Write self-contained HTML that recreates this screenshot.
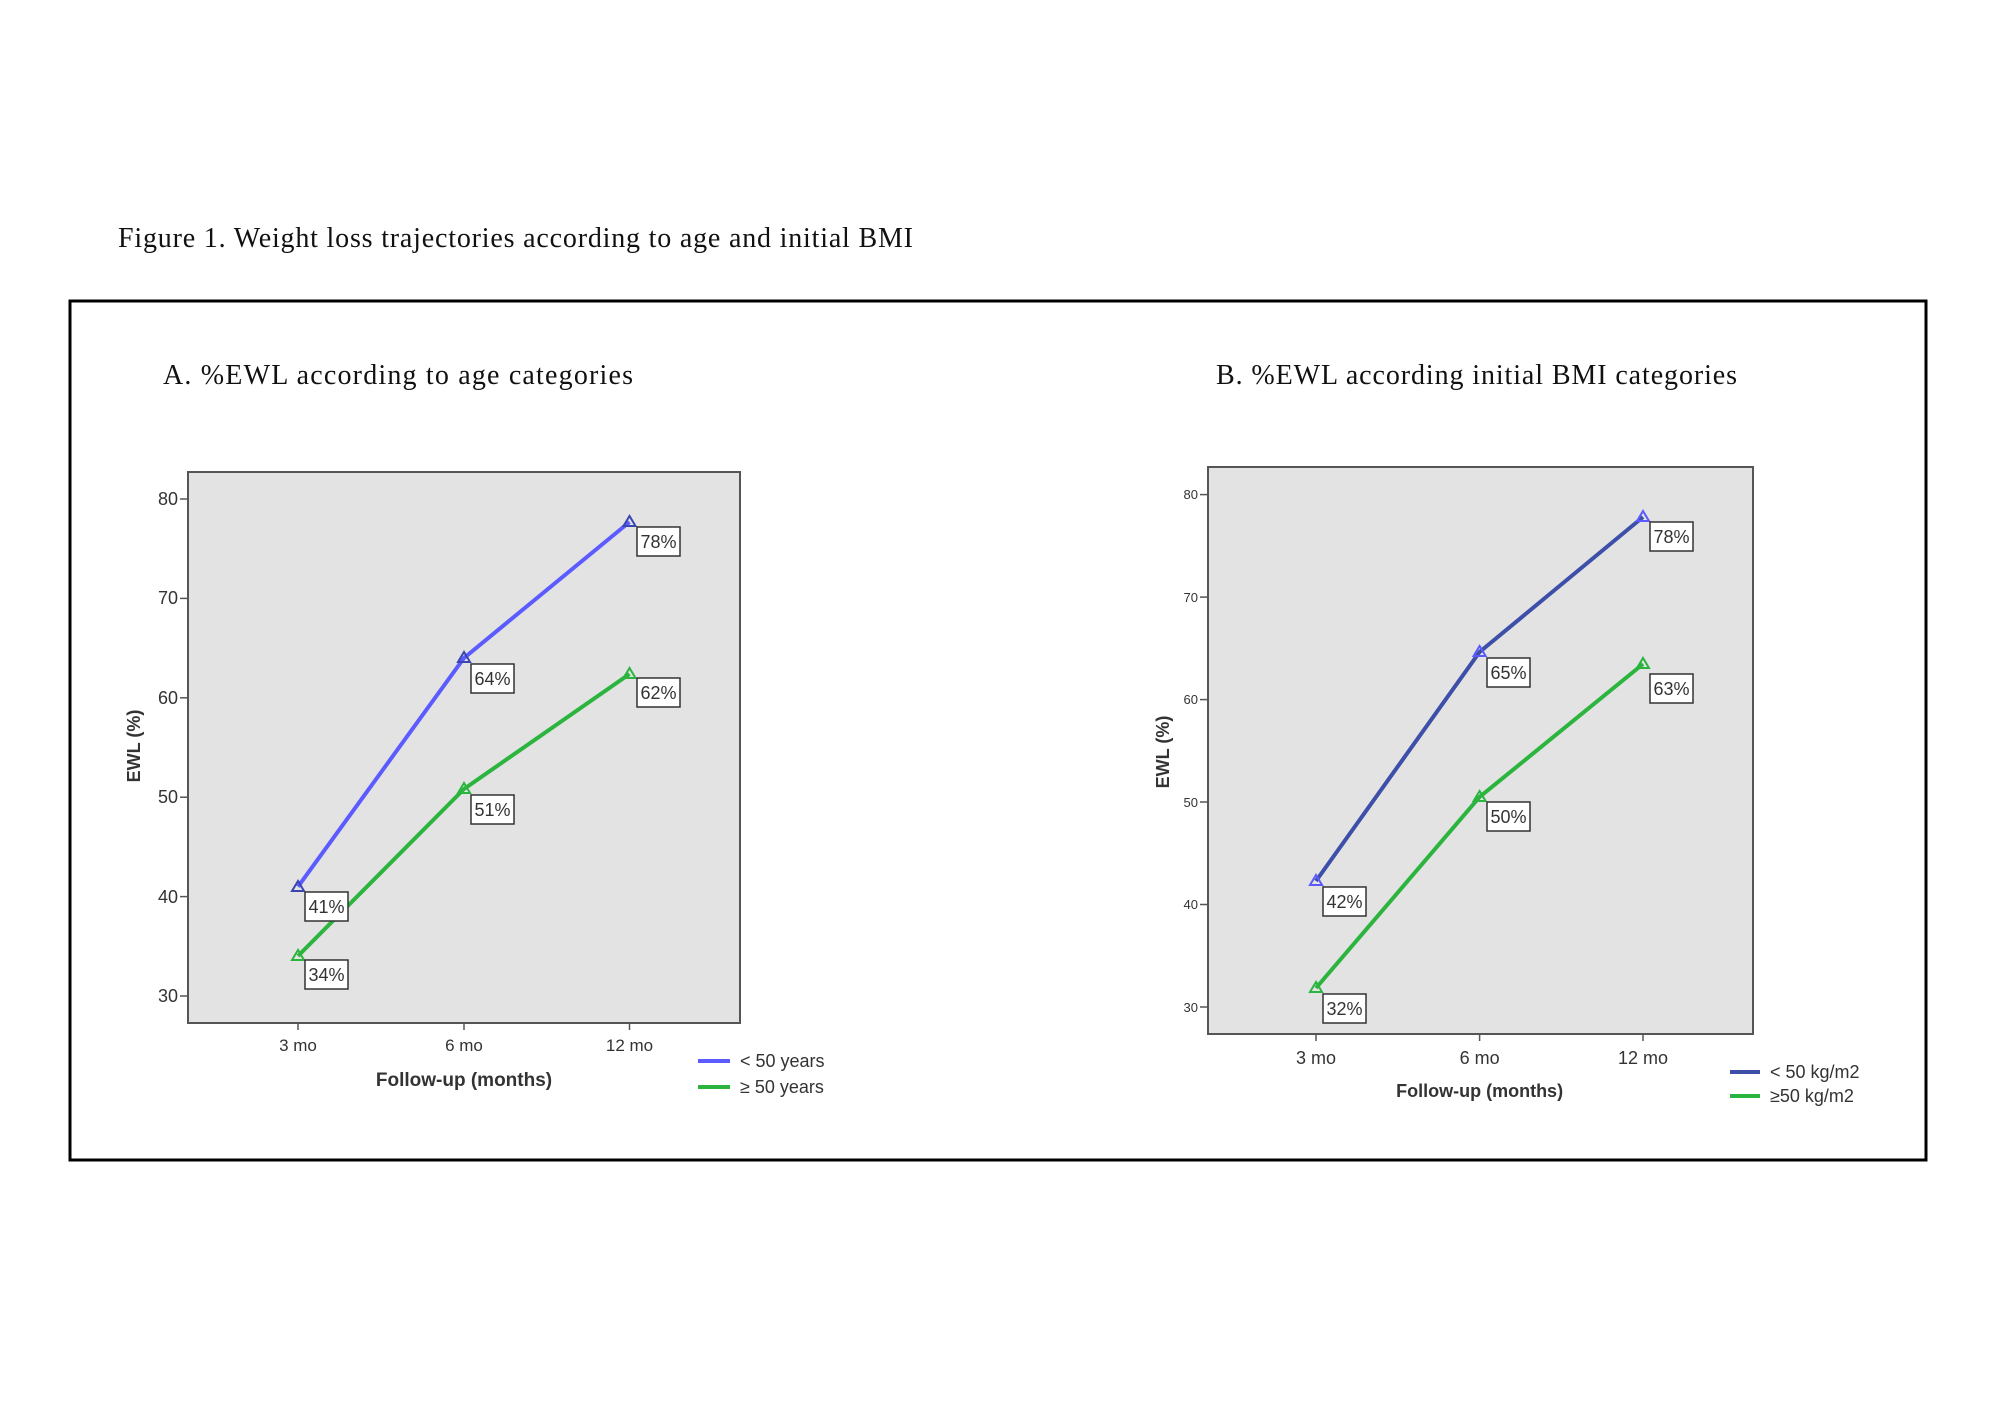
<!DOCTYPE html>
<html><head><style>body{margin:0;background:#fff}svg{display:block}</style></head>
<body>
<svg width="2000" height="1414" viewBox="0 0 2000 1414" xmlns="http://www.w3.org/2000/svg">
<defs>
<style>
.serif{font-family:"Liberation Serif",serif;fill:#111}
.sans{font-family:"Liberation Sans",sans-serif;fill:#333}
.lab{font-family:"Liberation Sans",sans-serif;fill:#333;font-size:18px}
</style>
</defs>
<text x="118" y="247" class="serif" font-size="28" textLength="795" lengthAdjust="spacing">Figure 1. Weight loss trajectories according to age and initial BMI</text>
<rect x="70" y="301" width="1856" height="859" fill="none" stroke="#000" stroke-width="3"/>
<text x="163" y="384" class="serif" font-size="28" textLength="470" lengthAdjust="spacing">A.  %EWL according to age categories</text>
<text x="1216" y="384" class="serif" font-size="28" textLength="521" lengthAdjust="spacing">B. %EWL according initial BMI categories</text>

<!-- Panel A -->
<rect x="188" y="472" width="552" height="551" fill="#e3e3e3" stroke="#555" stroke-width="2"/>
<g stroke="#555" stroke-width="1.5">
<line x1="180" y1="499" x2="188" y2="499"/><line x1="180" y1="598.4" x2="188" y2="598.4"/>
<line x1="180" y1="697.8" x2="188" y2="697.8"/><line x1="180" y1="797.2" x2="188" y2="797.2"/>
<line x1="180" y1="896.6" x2="188" y2="896.6"/><line x1="180" y1="996" x2="188" y2="996"/>
<line x1="298" y1="1023" x2="298" y2="1030"/><line x1="464" y1="1023" x2="464" y2="1030"/><line x1="629.5" y1="1023" x2="629.5" y2="1030"/>
</g>
<g class="sans" font-size="18" text-anchor="end">
<text x="178" y="505">80</text><text x="178" y="604">70</text><text x="178" y="704">60</text>
<text x="178" y="803">50</text><text x="178" y="903">40</text><text x="178" y="1002">30</text>
</g>
<g class="sans" font-size="17" text-anchor="middle">
<text x="298" y="1051">3 mo</text><text x="464" y="1051">6 mo</text><text x="629.5" y="1051">12 mo</text>
</g>
<text x="464" y="1086" class="sans" font-size="19" font-weight="bold" text-anchor="middle" fill="#111">Follow-up (months)</text>
<text transform="translate(140,746) rotate(-90)" class="sans" font-size="18" font-weight="bold" text-anchor="middle" fill="#111">EWL (%)</text>
<polyline points="298,886.7 464,658 629.5,522" fill="none" stroke="#5b5bff" stroke-width="4"/>
<polyline points="298,956 464,789 629.5,674" fill="none" stroke="#2bb43e" stroke-width="4"/>
<g fill="none" stroke-width="2">
<path d="M298,881 l-6,10 h12z" stroke="#3a46b0"/><path d="M464,652 l-6,10 h12z" stroke="#3a46b0"/><path d="M629.5,516 l-6,10 h12z" stroke="#3a46b0"/>
<path d="M298,950 l-6,10 h12z" stroke="#2bb43e"/><path d="M464,783 l-6,10 h12z" stroke="#2bb43e"/><path d="M629.5,668 l-6,10 h12z" stroke="#2bb43e"/>
</g>
<g fill="#fff" stroke="#333" stroke-width="1.5">
<rect x="305" y="892" width="43" height="29"/><rect x="305" y="960" width="43" height="29"/>
<rect x="471" y="664" width="43" height="29"/><rect x="471" y="795" width="43" height="29"/>
<rect x="637" y="527" width="43" height="29"/><rect x="637" y="678" width="43" height="29"/>
</g>
<g class="lab" text-anchor="middle">
<text x="326.5" y="913">41%</text><text x="326.5" y="981">34%</text>
<text x="492.5" y="685">64%</text><text x="492.5" y="816">51%</text>
<text x="658.5" y="548">78%</text><text x="658.5" y="699">62%</text>
</g>
<line x1="698" y1="1061" x2="730" y2="1061" stroke="#5b5bff" stroke-width="4"/>
<line x1="698" y1="1087" x2="730" y2="1087" stroke="#2bb43e" stroke-width="4"/>
<text x="740" y="1067" class="sans" font-size="18">&lt; 50 years</text>
<text x="740" y="1093" class="sans" font-size="18">≥ 50 years</text>

<!-- Panel B -->
<rect x="1208" y="467" width="545" height="567" fill="#e3e3e3" stroke="#555" stroke-width="2"/>
<g stroke="#555" stroke-width="1.5">
<line x1="1200" y1="494.6" x2="1208" y2="494.6"/><line x1="1200" y1="597.1" x2="1208" y2="597.1"/>
<line x1="1200" y1="699.6" x2="1208" y2="699.6"/><line x1="1200" y1="802" x2="1208" y2="802"/>
<line x1="1200" y1="904.5" x2="1208" y2="904.5"/><line x1="1200" y1="1007" x2="1208" y2="1007"/>
<line x1="1316" y1="1034" x2="1316" y2="1041"/><line x1="1479.6" y1="1034" x2="1479.6" y2="1041"/><line x1="1643" y1="1034" x2="1643" y2="1041"/>
</g>
<g class="sans" font-size="13" text-anchor="end">
<text x="1198" y="499">80</text><text x="1198" y="602">70</text><text x="1198" y="704">60</text>
<text x="1198" y="807">50</text><text x="1198" y="909">40</text><text x="1198" y="1012">30</text>
</g>
<g class="sans" font-size="18" text-anchor="middle">
<text x="1316" y="1064">3 mo</text><text x="1479.6" y="1064">6 mo</text><text x="1643" y="1064">12 mo</text>
</g>
<text x="1479.6" y="1097" class="sans" font-size="18" font-weight="bold" text-anchor="middle" fill="#111">Follow-up (months)</text>
<text transform="translate(1169,752) rotate(-90)" class="sans" font-size="18" font-weight="bold" text-anchor="middle" fill="#111">EWL (%)</text>
<polyline points="1316,881 1479.6,652 1643,517" fill="none" stroke="#3d4fa8" stroke-width="4"/>
<polyline points="1316,988 1479.6,797 1643,664" fill="none" stroke="#2bb43e" stroke-width="4"/>
<g fill="none" stroke-width="2">
<path d="M1316,875 l-6,10 h12z" stroke="#5a5aff"/><path d="M1479.6,646 l-6,10 h12z" stroke="#5a5aff"/><path d="M1643,511 l-6,10 h12z" stroke="#5a5aff"/>
<path d="M1316,982 l-6,10 h12z" stroke="#2bb43e"/><path d="M1479.6,791 l-6,10 h12z" stroke="#2bb43e"/><path d="M1643,658 l-6,10 h12z" stroke="#2bb43e"/>
</g>
<g fill="#fff" stroke="#333" stroke-width="1.5">
<rect x="1323" y="887" width="43" height="29"/><rect x="1323" y="994" width="43" height="29"/>
<rect x="1487" y="658" width="43" height="29"/><rect x="1487" y="802" width="43" height="29"/>
<rect x="1650" y="522" width="43" height="29"/><rect x="1650" y="674" width="43" height="29"/>
</g>
<g class="lab" text-anchor="middle">
<text x="1344.5" y="908">42%</text><text x="1344.5" y="1015">32%</text>
<text x="1508.5" y="679">65%</text><text x="1508.5" y="823">50%</text>
<text x="1671.5" y="543">78%</text><text x="1671.5" y="695">63%</text>
</g>
<line x1="1730" y1="1072" x2="1760" y2="1072" stroke="#3d4fa8" stroke-width="4"/>
<line x1="1730" y1="1096" x2="1760" y2="1096" stroke="#2bb43e" stroke-width="4"/>
<text x="1770" y="1078" class="sans" font-size="18">&lt; 50 kg/m2</text>
<text x="1770" y="1102" class="sans" font-size="18">≥50 kg/m2</text>
</svg>
</body></html>
